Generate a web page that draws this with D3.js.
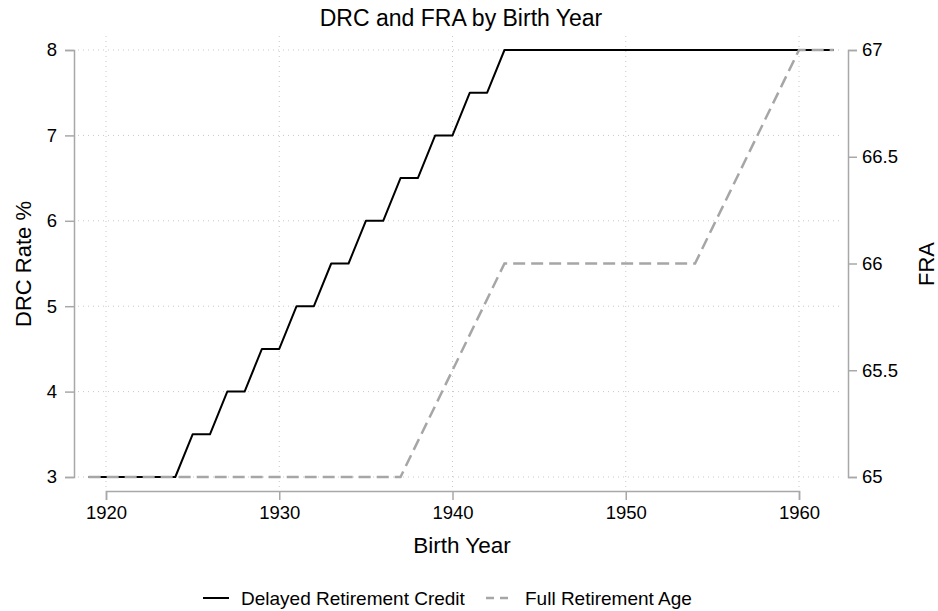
<!DOCTYPE html>
<html>
<head>
<meta charset="utf-8">
<script src="https://cdn.jsdelivr.net/npm/d3@7"></script>
<style>
  body { margin: 0; background: #fff; }
  text { font-family: "Liberation Sans", Arial, Helvetica, sans-serif; fill: #000; }
</style>
</head>
<body>
<svg id="chart" width="938" height="611"></svg>
<script>
// data
const years = [1919, 1920, 1921, 1922, 1923, 1924, 1925, 1926, 1927, 1928, 1929, 1930,
  1931, 1932, 1933, 1934, 1935, 1936, 1937, 1938, 1939, 1940, 1941, 1942, 1943, 1944,
  1945, 1946, 1947, 1948, 1949, 1950, 1951, 1952, 1953, 1954, 1955, 1956, 1957, 1958,
  1959, 1960, 1961, 1962];
const drc = [3, 3, 3, 3, 3, 3, 3.5, 3.5, 4, 4, 4.5, 4.5,
  5, 5, 5.5, 5.5, 6, 6, 6.5, 6.5, 7, 7, 7.5, 7.5, 8, 8,
  8, 8, 8, 8, 8, 8, 8, 8, 8, 8, 8, 8, 8, 8,
  8, 8, 8, 8];
const fra = [65, 65, 65, 65, 65, 65, 65, 65, 65, 65, 65, 65,
  65, 65, 65, 65, 65, 65, 65, 65.167, 65.333, 65.5, 65.667, 65.833, 66, 66,
  66, 66, 66, 66, 66, 66, 66, 66, 66, 66, 66.167, 66.333, 66.5, 66.667,
  66.833, 67, 67, 67];
const xTicks = [1920, 1930, 1940, 1950, 1960];
const leftTicks = [3, 4, 5, 6, 7, 8];
const rightTicks = [65, 65.5, 66, 66.5, 67];
const seriesNames = ["Delayed Retirement Credit", "Full Retirement Age"];

const svg = d3.select("#chart");
const axisColor = "#a8a8a8";

const x = d3.scaleLinear().domain([1920, 1960]).range([106, 799]);
const yL = d3.scaleLinear().domain([3, 8]).range([477, 50]);
const yR = d3.scaleLinear().domain([65, 67]).range([477, 50]);

// grid
svg.append("g").selectAll("line").data(leftTicks).join("line")
  .attr("x1", 78).attr("x2", 843)
  .attr("y1", d => yL(d)).attr("y2", d => yL(d))
  .attr("stroke", "#c8c8c8").attr("stroke-width", 1).attr("stroke-dasharray", "1,4");
svg.append("g").selectAll("line").data(xTicks).join("line")
  .attr("x1", d => x(d)).attr("x2", d => x(d))
  .attr("y1", 36).attr("y2", 487)
  .attr("stroke", "#c8c8c8").attr("stroke-width", 1).attr("stroke-dasharray", "1,4");

// axes
function styleAxis(g) {
  g.selectAll(".domain").attr("stroke", axisColor).attr("stroke-width", 1.5);
  g.selectAll(".tick line").attr("stroke", axisColor).attr("stroke-width", 1.5);
  g.selectAll(".tick text").style("font-size", "18.5px").attr("fill", "#000");
}

svg.append("g")
  .attr("transform", "translate(0,491)")
  .call(d3.axisBottom(x).tickValues(xTicks).tickFormat(d3.format("d")).tickSizeOuter(0).tickSize(9).tickPadding(6))
  .call(styleAxis);

svg.append("g")
  .attr("transform", "translate(74,0)")
  .call(d3.axisLeft(yL).tickValues(leftTicks).tickFormat(d3.format("d")).tickSizeOuter(0).tickSize(9).tickPadding(8))
  .call(styleAxis);

svg.append("g")
  .attr("transform", "translate(848,0)")
  .call(d3.axisRight(yR).tickValues(rightTicks).tickFormat(d => String(d)).tickSizeOuter(0).tickSize(9).tickPadding(5))
  .call(styleAxis);

svg.selectAll("text").attr("font-family", null);

// lines
const pts = years.map((yr, i) => ({ yr: yr, drc: drc[i], fra: fra[i] }));
svg.append("path").datum(pts)
  .attr("fill", "none").attr("stroke", "#000").attr("stroke-width", 2)
  .attr("stroke-linejoin", "round")
  .attr("d", d3.line().x(d => x(d.yr)).y(d => yL(d.drc)));
svg.append("path").datum(pts)
  .attr("fill", "none").attr("stroke", "#a6a6a6").attr("stroke-width", 2.5)
  .attr("stroke-dasharray", "12,6")
  .attr("d", d3.line().x(d => x(d.yr)).y(d => yR(d.fra)));

// titles
svg.append("text").attr("x", 461).attr("y", 26).attr("text-anchor", "middle")
  .style("font-size", "23px").text("DRC and FRA by Birth Year");
svg.append("text").attr("x", 462).attr("y", 553).attr("text-anchor", "middle")
  .style("font-size", "22.5px").text("Birth Year");
svg.append("text").attr("transform", "translate(31,264) rotate(-90)").attr("text-anchor", "middle")
  .style("font-size", "22px").text("DRC Rate %");
svg.append("text").attr("transform", "translate(934,264) rotate(-90)").attr("text-anchor", "middle")
  .style("font-size", "22px").text("FRA");

// legend
const leg = svg.append("g");
leg.append("line").attr("x1", 203).attr("x2", 229).attr("y1", 598).attr("y2", 598)
  .attr("stroke", "#000").attr("stroke-width", 2);
leg.append("text").attr("x", 241).attr("y", 605).style("font-size", "19px").text(seriesNames[0]);
leg.append("line").attr("x1", 486).attr("x2", 512).attr("y1", 598).attr("y2", 598)
  .attr("stroke", "#a6a6a6").attr("stroke-width", 2.5).attr("stroke-dasharray", "8,6");
leg.append("text").attr("x", 525).attr("y", 605).style("font-size", "19px").text(seriesNames[1]);
</script>
</body>
</html>
